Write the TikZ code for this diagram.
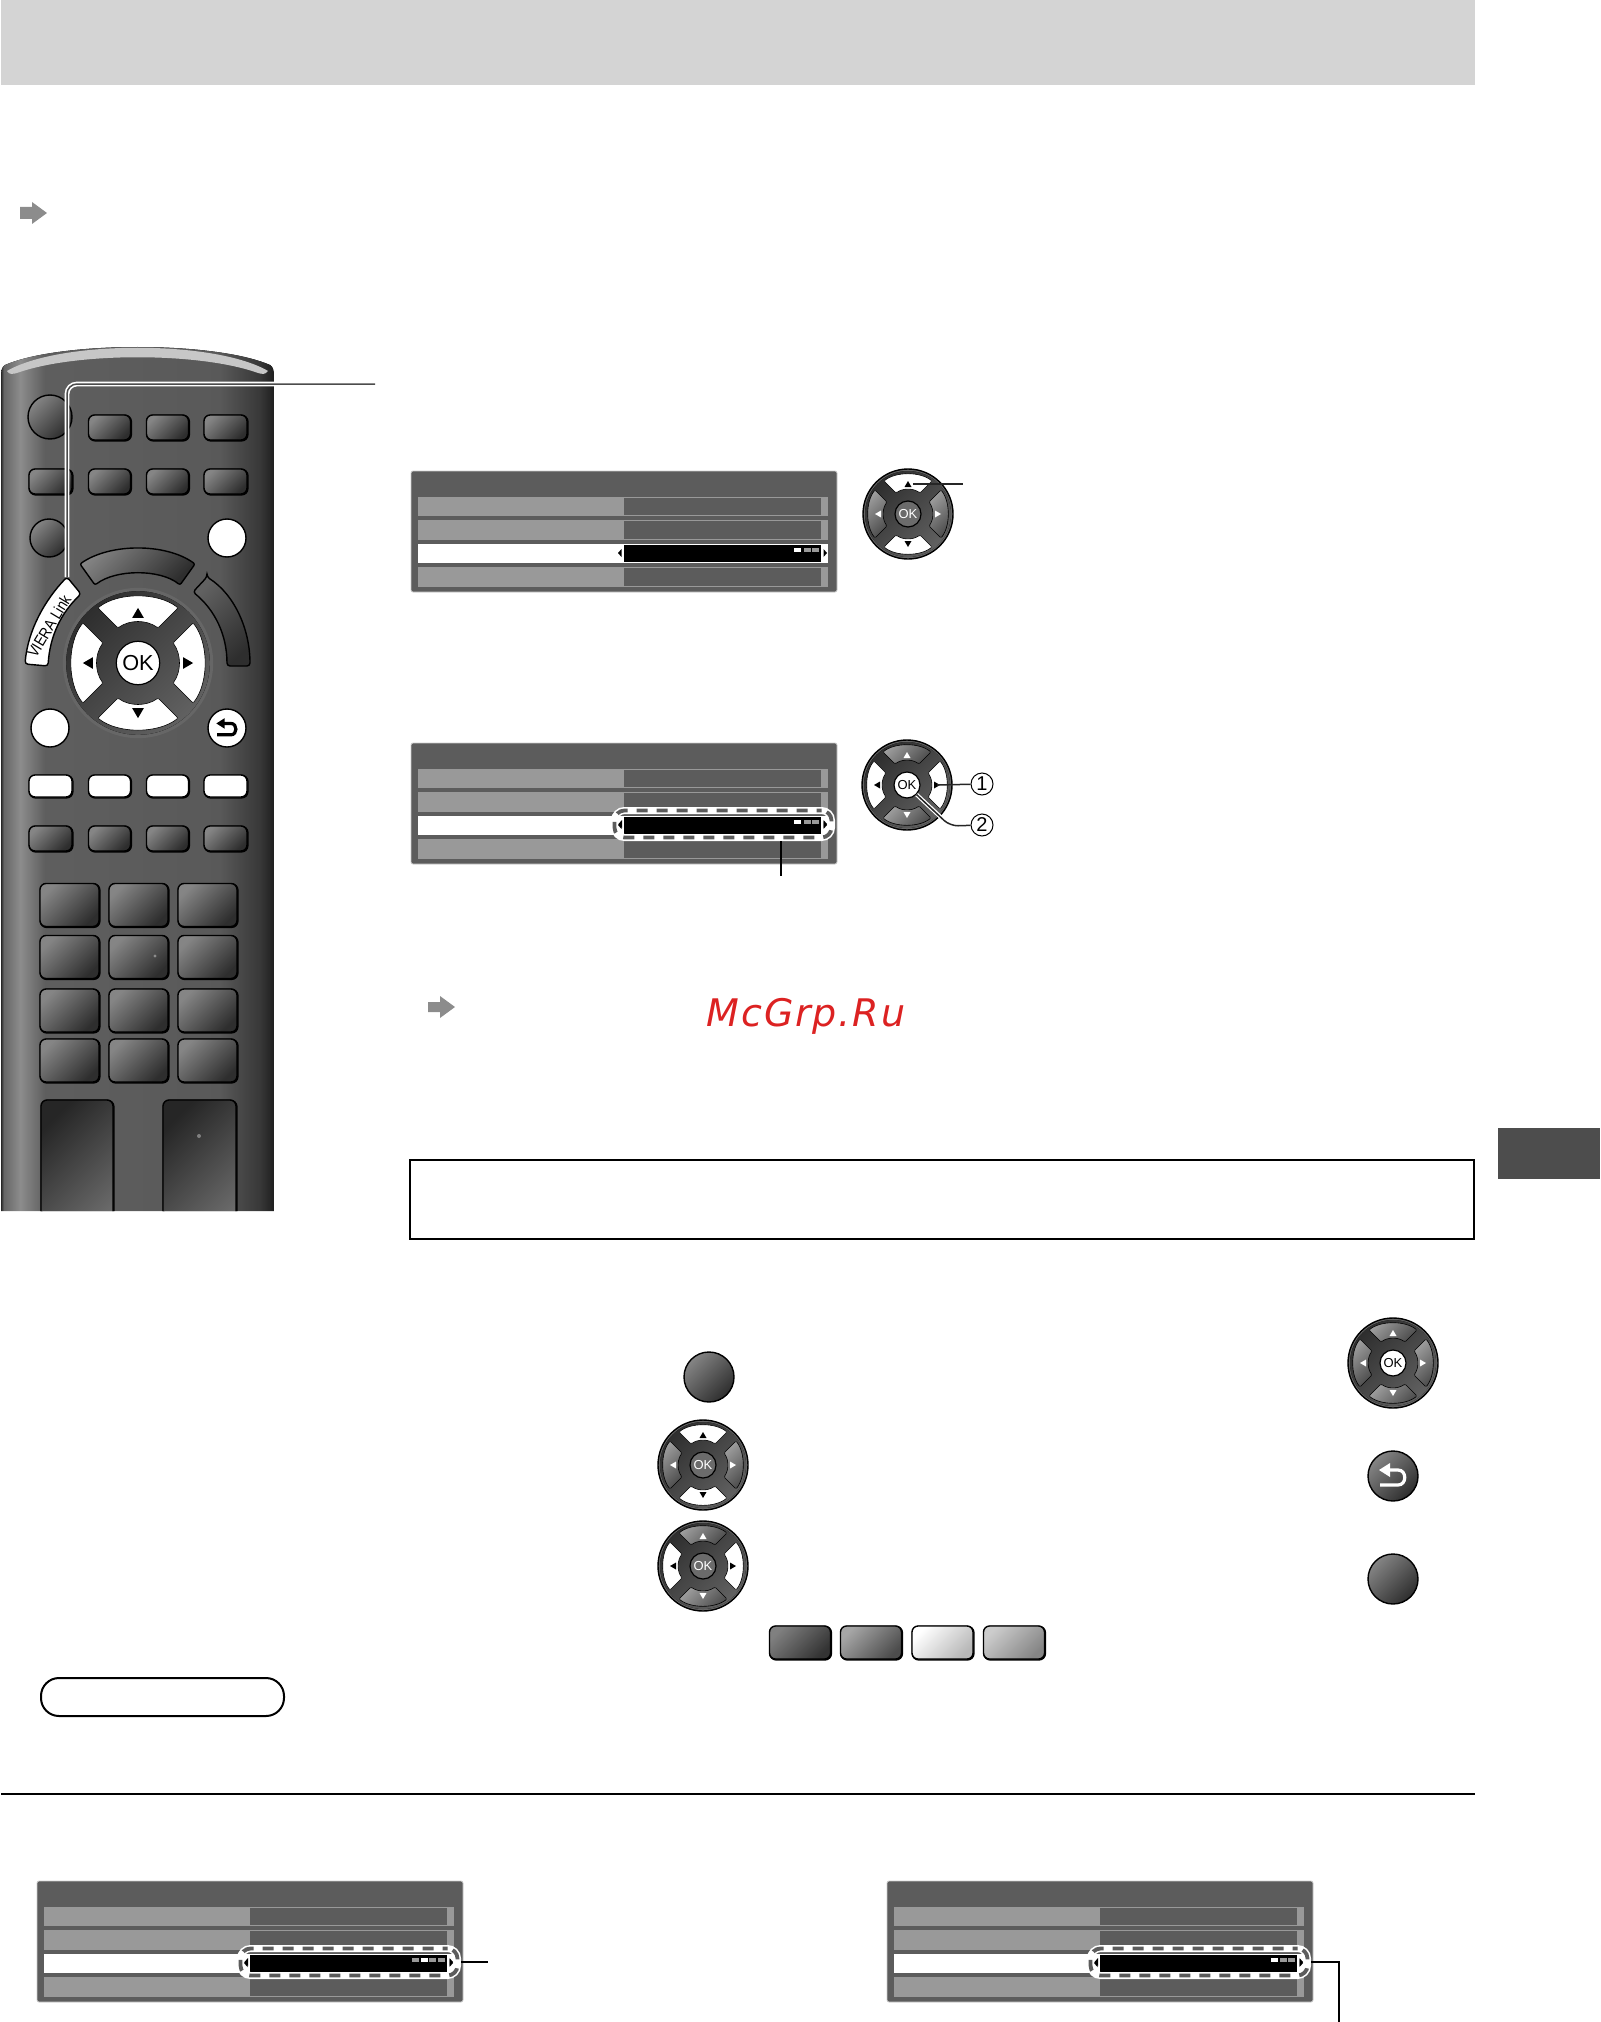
\documentclass[tikz,border=0pt]{standalone}
\usepackage{fontspec}
\setmainfont{Liberation Sans}
\newfontfamily\markfont[LetterSpace=5.0]{DejaVu Sans}
\usetikzlibrary{calc}
\definecolor{bandgrey}{HTML}{D4D4D4}
\definecolor{menugrey}{HTML}{5C5C5C}
\definecolor{rowgrey}{HTML}{999999}
\definecolor{tabgrey}{HTML}{4D4D4D}
\definecolor{markred}{HTML}{DC2222}
\pgfdeclarehorizontalshading{remotebody}{100bp}{
	color(0bp)=(black!85); color(25bp)=(black!85); color(25.5bp)=(black!60);
	color(28.5bp)=(black!45); color(33bp)=(black!63); color(65bp)=(black!65);
	color(72.4bp)=(black!78); color(75bp)=(black!88); color(100bp)=(black!88)}
\tikzset{
	darkkey/.style = {draw = black, line width = .7pt, top color = black!48, bottom color = black!82, shading angle = 45},
	litkey/.style = {draw = black, line width = .7pt, fill = white},
	capkey/.style = {shape = rectangle, rounded corners = 3pt, inner sep = 0pt,
					 preaction = {draw = black, line width = 1pt, transform canvas = {shift = {(.3pt,-.3pt)}}}},
	roundkey/.style = {shape = circle, inner sep = 0pt, minimum size = 19pt},
	wellkey/.style = {draw = black, line width = .7pt, top color = black!85, bottom color = black!58, shading angle = 45},
	padrim/.style = {draw = black, line width = .7pt},
	keylit/.style = {draw = black, line width = .3pt, fill = white, rounded corners = .6pt},
	keydim/.style = {draw = black, line width = .3pt, top color = black!38, bottom color = black!70, shading angle = 45, rounded corners = .6pt},
	trilit/.style = {fill = black},
	tridim/.style = {fill = white},
	oklit/.style = {draw = black, line width = .6pt, fill = white, text = black},
	okdim/.style = {draw = black, line width = .6pt, fill = black!58, text = white},
	menurow/.style = {fill = rowgrey},
	menucell/.style = {fill = menugrey},
	hilite/.style = {draw = white, line width = 3.5pt, rounded corners = 5pt, shape = rectangle,
					 inner sep = 0pt, minimum width = 108.5pt, minimum height = 13.5pt,
					 postaction = {draw = menugrey, line width = 1.9pt, dash pattern = on 5.5pt off 4.5pt, dash phase = 3pt}},
	leader/.style = {draw = black!85, line width = .75pt},
	halo/.style = {draw = white, line width = 2.4pt},
	ringnum/.style = {draw = black, line width = .5pt, shape = circle, inner sep = 0pt, minimum size = 11pt,
					  font = \fontsize{10}{10}\selectfont}
}
\newcommand{\navpad}[6]{
	\begin{scope}[shift = {(#2)}, scale = #3]
		\pgfmathsetmacro{\oksize}{13*#3}
		\pgfmathsetmacro{\okfont}{6.5*#3}
		\filldraw[padrim, fill = black!60] (0,0) circle [radius = 45];
		\fill[top color = black!82, bottom color = black!62, shading angle = 45] (0,0) circle [radius = 43];
		\foreach \a in {0,180} {
			\begin{scope}[rotate = \a]
				\draw[key#4] (-24,-33) .. controls (-12,-42.5) and (12,-42.5) .. (24,-33) -- (12,-21)
					.. controls (5,-26) and (-5,-26) .. (-12,-21) -- cycle;
				\fill[tri#4] (0,-33) -- (3.5,-27) -- (-3.5,-27) -- cycle;
			\end{scope}
		}
		\foreach \a in {90,270} {
			\begin{scope}[rotate = \a]
				\draw[key#5] (-24,-33) .. controls (-12,-42.5) and (12,-42.5) .. (24,-33) -- (12,-21)
					.. controls (5,-26) and (-5,-26) .. (-12,-21) -- cycle;
				\fill[tri#5] (0,-33) -- (3.5,-27) -- (-3.5,-27) -- cycle;
			\end{scope}
		}
		\draw (0,0) node[shape = circle, inner sep = 0pt, minimum size = \oksize pt, ok#6,
						 font = \fontsize{\okfont}{\okfont}\selectfont](#1) {OK};
	\end{scope}
}
\newcommand{\tvmenu}[3]{
	\begin{scope}[shift = {(#2)}]
		\draw (213,60.5) node[shape = rectangle, fill = menugrey, draw = black!20, line width = .4pt,
							  rounded corners = 1pt, inner sep = 0pt,
							  minimum width = 213pt, minimum height = 60.5pt](#1) {};
		\foreach \ya/\yb in {26/45,49/69,96/116} {
			\fill[menurow] (7,\ya) rectangle (417,\yb);
			\fill[menucell] (213,\ya+1) rectangle (410,\yb-1);
		}
		\fill[white] (7,73) rectangle (417,92);
		\fill[black] (213,74) rectangle (410,91);
		\foreach \sq/\tone in {#3} {
			\fill[\tone] (\sq,77) rectangle (\sq+7,80.5);
		}
		\fill[black] (207,82) -- (210.5,78) -- (210.5,86) -- cycle;
		\fill[black] (416,82) -- (412.5,78) -- (412.5,86) -- cycle;
	\end{scope}
}
\newcommand{\backglyph}[3]{
	\begin{scope}[shift = {(#1)}, scale = #2]
		\draw[#3, line width = 1.6pt] (-13,9) -- (5,9) .. controls (14,9) and (14,-6) .. (5,-6) -- (-4,-6);
		\fill[#3] (-14,-6) -- (-3,-13) -- (-3,1) -- cycle;
	\end{scope}
}
\begin{document}
\begin{tikzpicture}[x = .5pt, y = -.5pt]
	\useasboundingbox (0,0) rectangle (1600,2022);
	\fill[bandgrey] (1,0) rectangle (1475,85);
	\fill[tabgrey] (1498,1128) rectangle (1600,1179);

	\fill[black!45] (20,207) -- (32,207) -- (32,202) -- (47,213) -- (32,224) -- (32,219) -- (20,219) -- cycle;
	\fill[black!45] (428,1002) -- (440,1002) -- (440,996) -- (455,1007) -- (440,1018) -- (440,1012) -- (428,1012) -- cycle;

	\draw (806,1016) node[text = markred, font = \markfont\itshape\fontsize{19}{19}\selectfont](mcgrp) {McGrp.Ru};

	\draw (942,1199.5) node[draw = black, line width = 1pt, shape = rectangle, inner sep = 0pt,
							minimum width = 532pt, minimum height = 39.5pt](notebox) {};
	\draw (162.5,1697) node[draw = black, line width = 1pt, shape = rectangle, rounded corners = 9pt, inner sep = 0pt,
							minimum width = 121.5pt, minimum height = 19pt](tipbox) {};
	\draw[black, line width = 1.25pt] (1,1794) -- (1475,1794);

	\begin{scope}
		\path[clip] (1,1211) -- (1,378) .. controls (1,370) and (2,367) .. (5,365) .. controls (60,341) and (215,341) .. (270,365)
			.. controls (273,367) and (274,370) .. (274,378) -- (274,1211) -- cycle;
		\fill[shading = remotebody] (1,340) rectangle (274,1211);
		\fill[black!22] (7,371) .. controls (60,340) and (215,340) .. (268,371) .. controls (265,375) and (262,374) .. (258,373)
			.. controls (200,352) and (75,352) .. (17,373) .. controls (13,374) and (9,375) .. (7,371) -- cycle;

		\draw (50,417) node[roundkey, darkkey, minimum size = 22pt](power) {};
		\draw (49,538) node[roundkey, darkkey](menukey) {};
		\draw (227,538) node[roundkey, litkey](textkey) {};
		\draw (50,728) node[roundkey, litkey](exitkey) {};
		\draw (227,728) node[roundkey, litkey](backkey) {};
		\backglyph{227,728}{.76}{black}

		\foreach \kx/\kw in {109.5/21,167.5/21,225.5/21.5} {
			\draw (\kx,427.5) node[capkey, darkkey, minimum width = \kw pt, minimum height = 12.5pt](upper\kx) {};
		}
		\foreach \kx/\kw in {50.5/21.5,109.5/21,167.5/21,225.5/21.5} {
			\draw (\kx,481.5) node[capkey, darkkey, minimum width = \kw pt, minimum height = 12.5pt](second\kx) {};
			\draw (\kx,786) node[capkey, litkey, minimum width = \kw pt, minimum height = 11pt](colour\kx) {};
			\draw (\kx,838.5) node[capkey, darkkey, minimum width = \kw pt, minimum height = 12.5pt](lower\kx) {};
		}
		\foreach \ky in {905,957,1010.5,1060.5} {
			\foreach \kx in {69.5,138.5,207.5} {
				\draw (\kx,\ky) node[capkey, darkkey, minimum width = 29.5pt, minimum height = 21.5pt](num\kx\ky) {};
			}
		}
		\fill[black!45] (155,956) circle [radius = 1.6];
		\draw (77,1170) node[capkey, wellkey, minimum width = 36pt, minimum height = 70pt](longleft) {};
		\draw (199.5,1170) node[capkey, wellkey, minimum width = 36.5pt, minimum height = 70pt](longright) {};
		\fill[black!50] (199,1136) circle [radius = 2];

		\draw[darkkey, rounded corners = 1pt] (80,564) .. controls (110,543) and (166,543) .. (195,564) -- (180,585)
			.. controls (160,569) and (116,569) .. (95,585) -- cycle;
		\draw[draw = black, line width = .7pt, top color = black!62, bottom color = black!82, shading angle = 45, rounded corners = 1.5pt]
			(207,577) -- (193,592) .. controls (215,610) and (227,635) .. (227,666) -- (250,666)
			.. controls (250,630) and (235,595) .. (207,577) -- cycle;

		\begin{scope}[padrim/.style = {draw = none}]
			\navpad{padbig}{138,663}{1.67}{lit}{lit}{lit}
		\end{scope}

		\draw[litkey, rounded corners = 1.5pt] (25,664) .. controls (28,630) and (45,600) .. (67,577) -- (81,594)
			.. controls (62,612) and (50,635) .. (48,666) -- cycle;
		\draw (49,626) node[rotate = 59, inner sep = 0pt, xscale = .85,
							font = \fontsize{8}{8}\selectfont](vieralabel) {VIERA Link};

		\coordinate (vieratop) at (67,577);
		\coordinate (remoteedge) at (290,384);
		\draw[halo, rounded corners = 5pt] (vieratop) |- (remoteedge);
	\end{scope}
	\coordinate (vieraline) at (375,384);
	\draw[draw = black!70, line width = .75pt, rounded corners = 5pt] (vieratop) |- (vieraline);

	\tvmenu{menuone}{411,471}{383/white,393/rowgrey,401/rowgrey}
	\tvmenu{menutwo}{411,743}{383/white,393/rowgrey,401/rowgrey}
	\tvmenu{menuthree}{37,1881}{375/rowgrey,384/white,392/rowgrey,401/rowgrey}
	\tvmenu{menufour}{887,1881}{384/white,393/rowgrey,401/rowgrey}
	\draw (723,824) node[hilite](hilitetwo) {};
	\draw (349,1962) node[hilite](hilitethree) {};
	\draw (1199,1962) node[hilite](hilitefour) {};
	\fill[black] (618.5,824) -- (622,820) -- (622,828) -- cycle;
	\fill[black] (827,824) -- (823.5,820) -- (823.5,828) -- cycle;
	\fill[black] (244.5,1962) -- (248,1958) -- (248,1966) -- cycle;
	\fill[black] (453,1962) -- (449.5,1958) -- (449.5,1966) -- cycle;
	\fill[black] (1094.5,1962) -- (1098,1958) -- (1098,1966) -- cycle;
	\fill[black] (1303,1962) -- (1299.5,1958) -- (1299.5,1966) -- cycle;

	\navpad{padone}{908,514}{1}{lit}{dim}{dim}
	\navpad{padtwo}{907,785}{1}{dim}{lit}{lit}
	\navpad{padthree}{1393,1363}{1}{dim}{dim}{lit}
	\navpad{padfour}{703,1465}{1}{lit}{dim}{dim}
	\navpad{padfive}{703,1566}{1}{dim}{lit}{dim}

	\draw (709,1377) node[roundkey, darkkey, minimum size = 25pt](guidekey) {};
	\draw (1393,1476) node[roundkey, darkkey, minimum size = 25pt](returnkey) {};
	\backglyph{1393,1476}{1}{white}
	\draw (1393,1579) node[roundkey, darkkey, minimum size = 25pt](exitbig) {};

	\draw (800,1642.5) node[capkey, draw = black, line width = .7pt, top color = black!50, bottom color = black!80, shading angle = 45,
							minimum width = 30.5pt, minimum height = 16.5pt](redkey) {};
	\draw (871,1642.5) node[capkey, draw = black, line width = .7pt, top color = black!35, bottom color = black!70, shading angle = 45,
							minimum width = 30.5pt, minimum height = 16.5pt](greenkey) {};
	\draw (942.5,1642.5) node[capkey, draw = black, line width = .7pt, top color = white, bottom color = black!28, shading angle = 45,
							  minimum width = 30.5pt, minimum height = 16.5pt](yellowkey) {};
	\draw (1014,1642.5) node[capkey, draw = black, line width = .7pt, top color = black!20, bottom color = black!48, shading angle = 45,
							 minimum width = 30.5pt, minimum height = 16.5pt](bluekey) {};

	\coordinate (tipup) at (913,484);
	\coordinate (tagup) at (963,484);
	\draw[leader] (tipup) -- (tagup);

	\draw (982,784) node[ringnum](ringone) {1};
	\draw (982,825) node[ringnum](ringtwo) {2};
	\coordinate (tipright) at (937,785);
	\draw[leader] (tipright) -- (ringone);
	\draw[halo, line width = 2pt] (padtwo.south east) -- (947,823);
	\draw[leader, rounded corners = 4pt] (padtwo.south east) -- (950,826) -- (ringtwo);

	\coordinate (tagtwo) at (781,876);
	\draw[draw = black, line width = .75pt] (hilitetwo.south -| tagtwo) -- (tagtwo);
	\coordinate (tagthree) at (488,1962);
	\draw[draw = black, line width = .75pt] (hilitethree.east) -- (tagthree);
	\coordinate (tagfour) at (1339,2022);
	\draw[draw = black, line width = .75pt] (hilitefour.east) -| (tagfour);
\end{tikzpicture}
\end{document}
